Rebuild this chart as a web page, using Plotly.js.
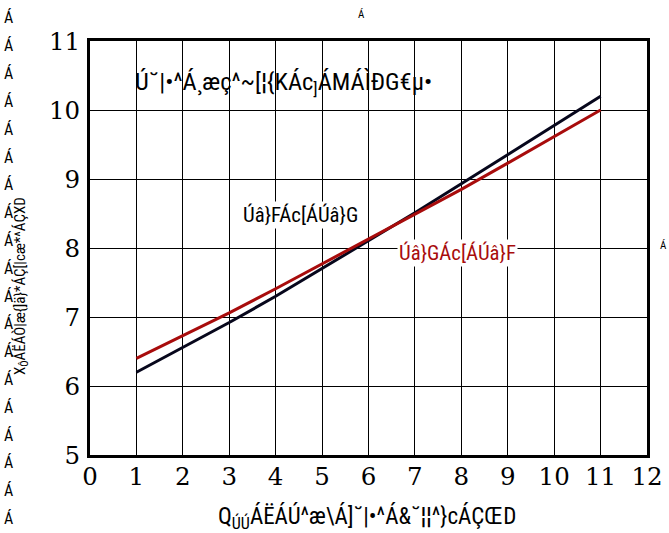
<!DOCTYPE html>
<html>
<head>
<meta charset="utf-8">
<script src="https://cdn.plot.ly/plotly-3.0.1.min.js"></script>
<style>html,body{margin:0;padding:0;background:#fff;}#chart{width:669px;height:533px;}</style>
</head>
<body>
<div id="chart"></div>
<script>
// Data
const currentA = [1, 2, 3, 4, 5, 6, 7, 8, 9, 10, 11];
const vcPin1to2 = [6.2, 6.56, 6.92, 7.3, 7.7, 8.1, 8.51, 8.93, 9.35, 9.77, 10.2];
const vcPin2to1 = [6.4, 6.73, 7.06, 7.41, 7.77, 8.12, 8.48, 8.85, 9.23, 9.61, 10.0];
const xTicks = [0,1,2,3,4,5,6,7,8,9,10,11,12];
const yTicks = [5,6,7,8,9,10,11];

// Text as it appears in the reference
const titleText = "Ú˘|•^Á¸æç^~[¦{KÁc<sub>]</sub>ÁMÁÌÐG€µ•";
const label1to2 = "Úâ}FÁc[ÁÚâ}G";
const label2to1 = "Úâ}GÁc[ÁÚâ}F";
const xTitle = "Q<sub>ÚÚ</sub>ÁËÁÚ^æ\\Á]˘|•^Á&˘¦¦^}cÁÇŒD";
const yTitle = "X<sub>Ô</sub>ÁËÁÒ|æ{]ä}*ÁÇ[|cæ*^ÁÇXD";
const strayChar = "Á";

const narrowFont = (size, color) => ({family: 'Roboto Condensed', size: size, color: color || '#000'});
const serifFont = {family: 'DejaVu Serif', size: 24.5, color: '#000'};

const traces = [
  {x: currentA, y: vcPin1to2, mode: 'lines', line: {color: '#07071c', width: 3}, showlegend: false, hoverinfo: 'skip'},
  {x: currentA, y: vcPin2to1, mode: 'lines', line: {color: '#a80c0c', width: 3}, showlegend: false, hoverinfo: 'skip'}
];

const annotations = [
  {xref:'x', yref:'y', x: 4.16, y: 10.39, text: titleText, showarrow:false, font: narrowFont(24.5)},
  {xref:'x', yref:'y', x: 4.53, y: 8.48, text: label1to2, showarrow:false, bgcolor:'#fff', font: narrowFont(20.8)},
  {xref:'x', yref:'y', x: 7.91, y: 7.93, text: label2to1, showarrow:false, bgcolor:'#fff', font: narrowFont(20.8, '#a80c0c')},
  {xref:'paper', yref:'paper', x: 0.498, y: -0.152, yanchor:'middle', xanchor:'center', text: xTitle, showarrow:false, font: narrowFont(23)},
  {xref:'paper', yref:'paper', x: -0.124, y: 0.408, xanchor:'center', yanchor:'middle', textangle:-90, text: yTitle, showarrow:false, font: narrowFont(15)}
];
// stray glyph column on the left edge and two single ones
for (let i = 0; i < 19; i++) {
  annotations.push({xref:'paper', yref:'paper', x: (8-90)/557, y: (455-(18+27.8*i))/414, xanchor:'center', yanchor:'middle', text: strayChar, showarrow:false, font: narrowFont(16)});
}
annotations.push({xref:'paper', yref:'paper', x:(361-90)/557, y:(455-15)/414, xanchor:'center', yanchor:'middle', text: strayChar, showarrow:false, font: narrowFont(11)});
annotations.push({xref:'paper', yref:'paper', x:(663-90)/557, y:(455-245)/414, xanchor:'center', yanchor:'middle', text: strayChar, showarrow:false, font: narrowFont(11)});

const layout = {
  width: 669, height: 533,
  margin: {l: 90, r: 22, t: 41, b: 78},
  paper_bgcolor: '#fff', plot_bgcolor: '#fff',
  showlegend: false,
  xaxis: {
    range: [0, 12], tickvals: xTicks, ticktext: xTicks.map(String),
    showgrid: true, gridcolor: '#000', gridwidth: 1, zeroline: false,
    showline: true, linecolor: '#000', linewidth: 3, mirror: true,
    ticks: '', tickfont: serifFont, ticklabelstandoff: -2
  },
  yaxis: {
    range: [5, 11], tickvals: yTicks, ticktext: yTicks.map(String),
    showgrid: true, gridcolor: '#000', gridwidth: 1, zeroline: false,
    showline: true, linecolor: '#000', linewidth: 3, mirror: true,
    ticks: '', tickfont: serifFont, ticklabelstandoff: 2
  },
  annotations: annotations
};

Plotly.newPlot('chart', traces, layout, {displayModeBar: false, staticPlot: true});
</script>
</body>
</html>
